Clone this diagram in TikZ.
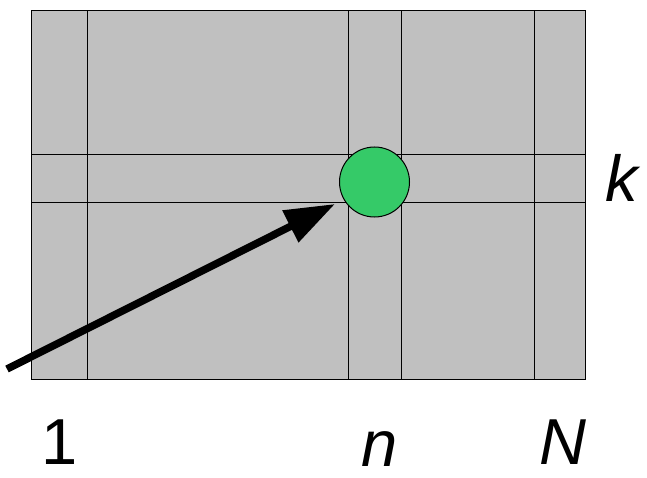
\documentclass[tikz,border=0pt]{standalone}
\usepackage{fontspec}
\setmainfont{Liberation Sans}
\usetikzlibrary{arrows.meta}
\definecolor{cellgray}{HTML}{C0C0C0}
\definecolor{dotgreen}{HTML}{35CA68}
\tikzset{
  gridline/.style={draw=black, line width=1pt},
  lbl/.style={inner sep=0pt, anchor=base, font=\fontsize{65}{65}\selectfont},
  bigarrow/.style={line width=7.5pt, line cap=butt, -{Triangle[length=50pt,width=34pt]}}
}
\begin{document}
\begin{tikzpicture}[x=1pt, y=-1pt]
\useasboundingbox (0,0) rectangle (647,478);
% grid
\fill[cellgray] (31,11) rectangle (585,379);
\draw[gridline] (87,11) -- (87,379);
\draw[gridline] (348.5,11) -- (348.5,379);
\draw[gridline] (401,11) -- (401,379);
\draw[gridline] (534,11) -- (534,379);
\draw[gridline] (31,155) -- (585,155);
\draw[gridline] (31,203) -- (585,203);
\draw[gridline] (31,11) rectangle (585,379);
% dot
\node[circle, draw=black, line width=1pt, fill=dotgreen, minimum size=70pt, inner sep=0pt] (dot) at (374.5,182) {};
% arrow
\coordinate (start) at (7,369);
\coordinate (tip) at (335,204);
\draw[bigarrow] (start) -- (tip);
% labels
\node[lbl] (k) at (622,202) {\itshape k};
\node[lbl] (one) at (60,464) {1};
\node[lbl] (n) at (380,466) {\itshape n};
\node[lbl] (N) at (563,464) {\itshape N};
\end{tikzpicture}
\end{document}
